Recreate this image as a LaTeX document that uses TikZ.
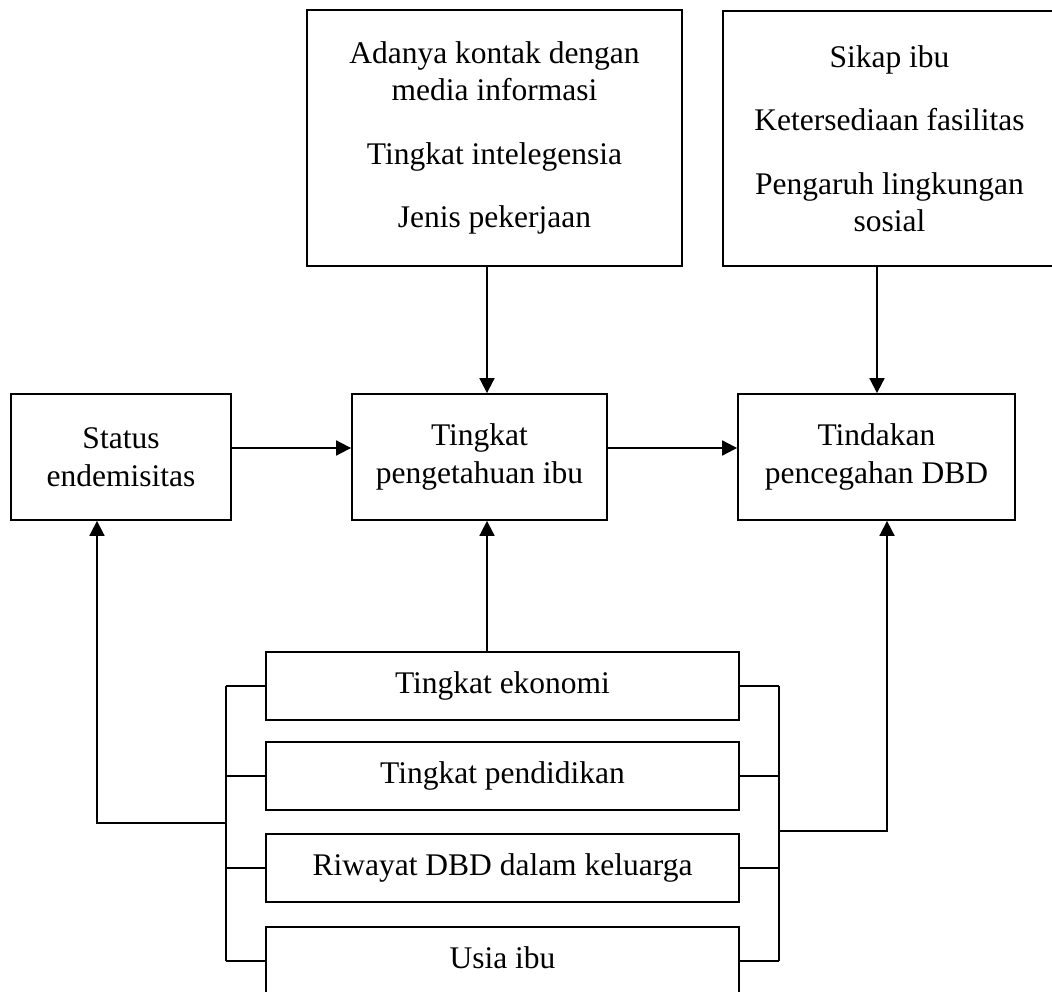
\documentclass[tikz,border=0pt]{standalone}
\usepackage{fontspec}
\setmainfont{Liberation Serif}
\usetikzlibrary{arrows.meta,calc}
\begin{document}
\begin{tikzpicture}[x=1pt,y=-1pt,
  every node/.style={font=\fontsize{31.5}{37.5}\selectfont},
  box/.style={draw,line width=1.8pt,rectangle,inner sep=0pt,align=center},
  lowbox/.style={box,minimum width=473pt,text height=21.5pt,text depth=6.8pt},
  link/.style={line width=1.8pt},
  arrow/.style={line width=1.8pt,-{Triangle[length=15pt,width=15pt]}}]
\useasboundingbox (0,0) rectangle (1052,992);
% top boxes
\node[box,minimum width=375pt,minimum height=256pt] (info) at (494.5,138)
  {Adanya kontak dengan\\media informasi\\[26pt]Tingkat intelegensia\\[26pt]Jenis pekerjaan};
\node[box,minimum width=333pt,minimum height=255pt] (sikap) at (889.5,138.5)
  {Sikap ibu\\[26pt]Ketersediaan fasilitas\\[26pt]Pengaruh lingkungan\\sosial};
% middle row
\node[box,minimum width=220pt,minimum height=126pt] (status) at (121,457)
  {Status\\endemisitas};
\node[box,minimum width=255pt,minimum height=126pt] (peng) at (479.5,457)
  {Tingkat\\pengetahuan ibu};
\node[box,minimum width=277pt,minimum height=126pt] (tind) at (876.5,457)
  {Tindakan\\pencegahan DBD};
% bottom boxes
\node[lowbox,minimum height=68pt] (eko) at (502.5,686) {Tingkat ekonomi};
\node[lowbox,minimum height=68pt] (pend) at (502.5,776) {Tingkat pendidikan};
\node[lowbox,minimum height=68pt] (riw) at (502.5,868) {Riwayat DBD dalam keluarga};
\node[lowbox,minimum height=68pt] (usia) at (502.5,961) {Usia ibu};
% helper coordinates
\coordinate (ax) at (487,0);
\coordinate (sx) at (877,0);
\coordinate (lb) at (226,0);
\coordinate (rb) at (779,0);
\coordinate (lx) at (97,823);
\coordinate (rx) at (887,831);
% arrows from top boxes
\draw[arrow] (ax |- info.south) -- (ax |- peng.north);
\draw[arrow] (sx |- sikap.south) -- (sx |- tind.north);
% horizontal arrows
\draw[arrow] ([yshift=9pt]status.east) -- ([yshift=9pt]peng.west);
\draw[arrow] ([yshift=9pt]peng.east) -- ([yshift=9pt]tind.west);
% bottom to knowledge
\draw[arrow] (ax |- eko.north) -- (ax |- peng.south);
% left bracket
\draw[link] (eko.west) -- (eko.west -| lb);
\draw[link] (pend.west) -- (pend.west -| lb);
\draw[link] (riw.west) -- (riw.west -| lb);
\draw[link] (usia.west) -- (usia.west -| lb);
\draw[link] (eko.west -| lb) -- (usia.west -| lb);
\draw[arrow] (lb |- lx) -- (lx) -- (lx |- status.south);
% right bracket
\draw[link] (eko.east) -- (eko.east -| rb);
\draw[link] (pend.east) -- (pend.east -| rb);
\draw[link] (riw.east) -- (riw.east -| rb);
\draw[link] (usia.east) -- (usia.east -| rb);
\draw[link] (eko.east -| rb) -- (usia.east -| rb);
\draw[arrow] (rb |- rx) -- (rx) -- (rx |- tind.south);
\end{tikzpicture}
\end{document}
